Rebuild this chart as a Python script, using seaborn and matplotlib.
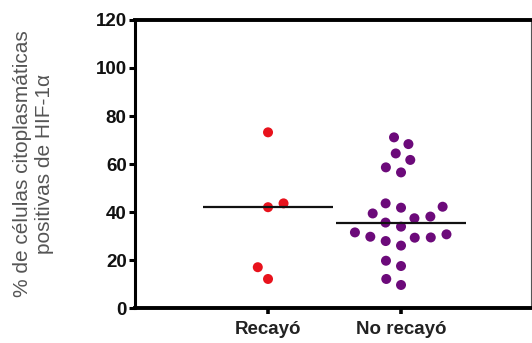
import numpy as np
import pandas as pd
import matplotlib
matplotlib.use("Agg")
import matplotlib.pyplot as plt
import seaborn as sns

# % of cells with cytoplasmic HIF-1α staining, per group
groups = ["Recayó", "No recayó"]
recayo = [73.2, 43.6, 42.0, 17.0, 12.1]
no_recayo = [71.1, 68.3, 64.4, 61.7, 58.6, 56.5, 43.6, 41.8, 42.2, 39.4,
             38.1, 37.4, 35.6, 33.9, 31.5, 30.7, 29.7, 29.3, 29.4, 27.9,
             26.0, 19.7, 17.5, 12.1, 9.6]
colors = ["#e8121c", "#6c0a7a"]
y_ticks = [0, 20, 40, 60, 80, 100, 120]

df = pd.DataFrame({
    "grupo": [groups[0]] * len(recayo) + [groups[1]] * len(no_recayo),
    "valor": recayo + no_recayo,
})

sns.set_theme(style="white")
plt.rcParams["font.family"] = ["Liberation Sans", "DejaVu Sans"]

fig = plt.figure(figsize=(5.32, 3.43), dpi=100)
ax = fig.add_axes([0.2538, 0.102, 0.745, 0.8397])

# lay the swarm out with roomy spacing, then shrink the dots
sns.swarmplot(data=df, x="grupo", y="valor", hue="grupo", order=groups,
              palette=colors, size=11, linewidth=0, legend=False, ax=ax)

# median line per group
for i, vals in enumerate([recayo, no_recayo]):
    ax.hlines(np.median(vals), i - 0.49, i + 0.49, color="#111111",
              linewidth=1.6, zorder=3)

ax.set_xlim(-1.0, 1.98)
ax.set_ylim(0, 120)
ax.set_yticks(y_ticks)
ax.set_yticklabels([str(t) for t in y_ticks], fontweight="bold",
                   fontsize=13.5, color="#111111")
ax.set_xticks([0, 1])
ax.set_xticklabels(groups, fontweight="bold", fontsize=13.5, color="#222222")
ax.set_xlabel("")
ax.set_ylabel("% de células citoplasmáticas\npositivas de HIF-1α",
              fontsize=15, color="#555555", linespacing=1.2)
ax.yaxis.set_label_coords(-0.205, 0.5)

for side in ["top", "bottom"]:
    ax.spines[side].set_linewidth(2.8)
    ax.spines[side].set_color("black")
ax.spines["left"].set_linewidth(2.2)
ax.spines["left"].set_color("black")
ax.spines["right"].set_linewidth(0.8)
ax.spines["right"].set_color("#555555")

ax.tick_params(axis="y", direction="out", length=4, width=2.2, left=True,
               pad=2, colors="black", labelcolor="#111111")
ax.tick_params(axis="x", direction="out", length=4, width=2.6, bottom=True,
               pad=5, colors="black", labelcolor="#222222")

# compute swarm positions once, keep them, and draw smaller dots
fig.canvas.draw()
for coll in ax.collections:
    if "draw" in coll.__dict__:
        del coll.draw
        coll.set_sizes(np.full(len(coll.get_offsets()), 7.2 ** 2))

fig.savefig("out.png", dpi=100)
